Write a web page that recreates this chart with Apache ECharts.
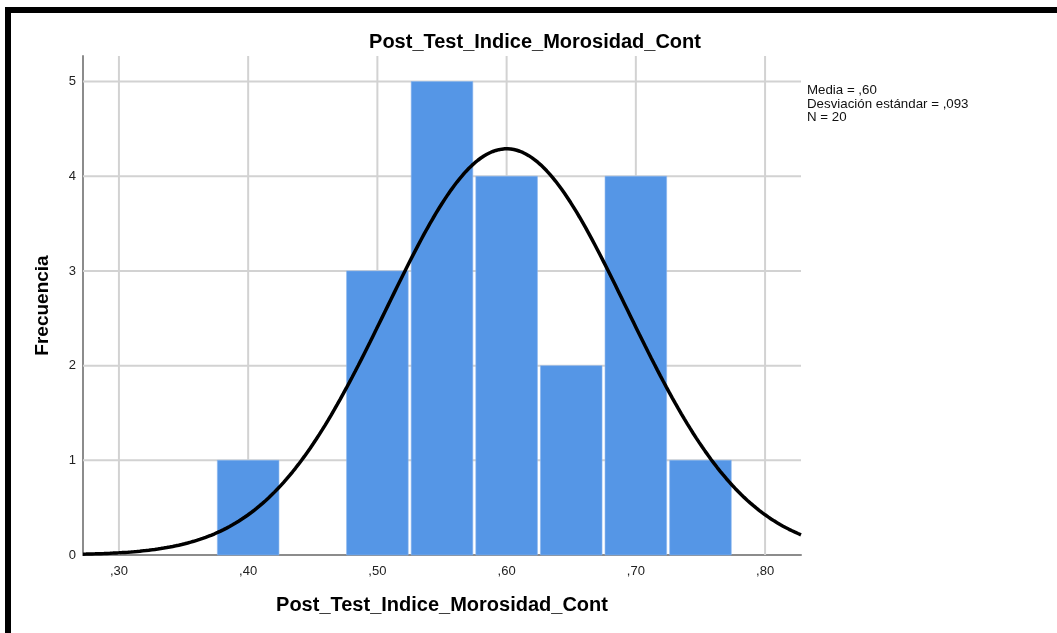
<!DOCTYPE html>
<html>
<head>
<meta charset="utf-8">
<script src="https://cdn.jsdelivr.net/npm/echarts@6/dist/echarts.min.js"></script>
<style>
html,body{margin:0;padding:0;background:#fff;}
#chart{width:1057px;height:633px;}
</style>
</head>
<body>
<div id="chart"></div>
<script>
// ---- data ----
const chartTitle = 'Post_Test_Indice_Morosidad_Cont';
const xAxisTitle = 'Post_Test_Indice_Morosidad_Cont';
const yAxisTitle = 'Frecuencia';
const binStarts = [0.375, 0.475, 0.525, 0.575, 0.625, 0.675, 0.725];
const binWidth = 0.05;
const frequencies = [1, 3, 5, 4, 2, 4, 1];
const xTickValues = [0.30, 0.40, 0.50, 0.60, 0.70, 0.80];
const xTickLabels = [',30', ',40', ',50', ',60', ',70', ',80'];
const yTickValues = [0, 1, 2, 3, 4, 5];
const yTickLabels = ['0', '1', '2', '3', '4', '5'];
const statsLines = ['Media = ,60', 'Desviación estándar = ,093', 'N = 20'];
const curveMean = 0.60;
const curveSd = 0.093;
const sampleN = 20;
const xRange = [0.2722, 0.8278];
const yRange = [0, 5.27];

// normal curve scaled to histogram counts
const curvePoints = [];
const steps = 240;
for (let i = 0; i <= steps; i++) {
  const x = xRange[0] + (xRange[1] - xRange[0]) * i / steps;
  const z = (x - curveMean) / curveSd;
  const y = sampleN * binWidth * Math.exp(-0.5 * z * z) / (curveSd * Math.sqrt(2 * Math.PI));
  curvePoints.push([x, y]);
}
const barData = binStarts.map((s, i) => [s, s + binWidth, frequencies[i]]);
const gridData = xTickValues.map(v => ['v', v]).concat(yTickValues.filter(v => v > 0).map(v => ['h', v]));

const chart = echarts.init(document.getElementById('chart'), null, {renderer: 'canvas'});
const FONT = 'Liberation Sans, Arial, sans-serif';

chart.setOption({
  animation: false,
  backgroundColor: '#ffffff',
  grid: {left: 83, right: 256, top: 56, bottom: 78, containLabel: false},
  xAxis: {
    type: 'value',
    min: xRange[0], max: xRange[1],
    name: xAxisTitle,
    nameLocation: 'middle',
    nameGap: 40,
    nameTextStyle: {fontFamily: FONT, fontWeight: 'bold', fontSize: 20, color: '#000'},
    axisLine: {show: true, lineStyle: {color: '#8c8c8c', width: 2}},
    axisTick: {show: false},
    splitLine: {show: false},
    axisLabel: {
      customValues: xTickValues,
      formatter: v => {
        const idx = xTickValues.findIndex(t => Math.abs(t - v) < 1e-6);
        return idx >= 0 ? xTickLabels[idx] : '';
      },
      fontFamily: FONT, fontSize: 13, color: '#222', margin: 10
    }
  },
  yAxis: {
    type: 'value',
    min: yRange[0], max: yRange[1],
    name: yAxisTitle,
    nameLocation: 'middle',
    nameGap: 31,
    nameTextStyle: {fontFamily: FONT, fontWeight: 'bold', fontSize: 19, color: '#000'},
    axisLine: {show: true, lineStyle: {color: '#8c8c8c', width: 2}},
    axisTick: {show: false},
    splitLine: {show: false},
    axisLabel: {
      customValues: yTickValues,
      formatter: v => {
        const i = Math.round(v);
        return Math.abs(v - i) < 1e-6 && yTickLabels[i] !== undefined ? yTickLabels[i] : '';
      },
      fontFamily: FONT, fontSize: 13, color: '#222', margin: 7
    }
  },
  title: {
    text: chartTitle,
    left: 530, top: 27, textAlign: 'center',
    textStyle: {fontFamily: FONT, fontWeight: 'bold', fontSize: 20, color: '#000'}
  },
  graphic: [
    {type: 'rect', shape: {x: 5, y: 7, width: 1052, height: 6}, style: {fill: '#000'}, z: 100},
    {type: 'rect', shape: {x: 5, y: 7, width: 6, height: 626}, style: {fill: '#000'}, z: 100},
    {
      type: 'text', left: 807, top: 84, z: 100,
      style: {
        text: statsLines.join('\n'),
        font: '13.3px ' + FONT,
        fill: '#111',
        lineHeight: 13.5
      }
    }
  ],
  series: [
    {
      // grid lines drawn behind the bars
      type: 'custom',
      z: 1,
      silent: true,
      data: gridData,
      renderItem: function (params, api) {
        const kind = gridData[params.dataIndex][0];
        const v = gridData[params.dataIndex][1];
        let a, b;
        if (kind === 'v') {
          a = api.coord([v, yRange[1]]);
          b = api.coord([v, yRange[0]]);
        } else {
          a = api.coord([xRange[0], v]);
          b = api.coord([xRange[1], v]);
        }
        return {
          type: 'line',
          shape: {x1: a[0], y1: a[1], x2: b[0], y2: b[1]},
          style: {stroke: '#d2d2d2', lineWidth: 2}
        };
      }
    },
    {
      type: 'custom',
      z: 3,
      data: barData,
      encode: {x: [0, 1], y: 2},
      renderItem: function (params, api) {
        const p0 = api.coord([api.value(0), api.value(2)]);
        const p1 = api.coord([api.value(1), 0]);
        const inset = 1.5;
        return {
          type: 'rect',
          shape: {x: p0[0] + inset, y: p0[1], width: p1[0] - p0[0] - 2 * inset, height: p1[1] - p0[1]},
          style: {fill: '#5596e6', stroke: '#8ab6ee', lineWidth: 0.6}
        };
      }
    },
    {
      type: 'line',
      z: 5,
      data: curvePoints,
      showSymbol: false,
      smooth: false,
      lineStyle: {color: '#000', width: 3.5},
      silent: true
    }
  ]
});
</script>
</body>
</html>
